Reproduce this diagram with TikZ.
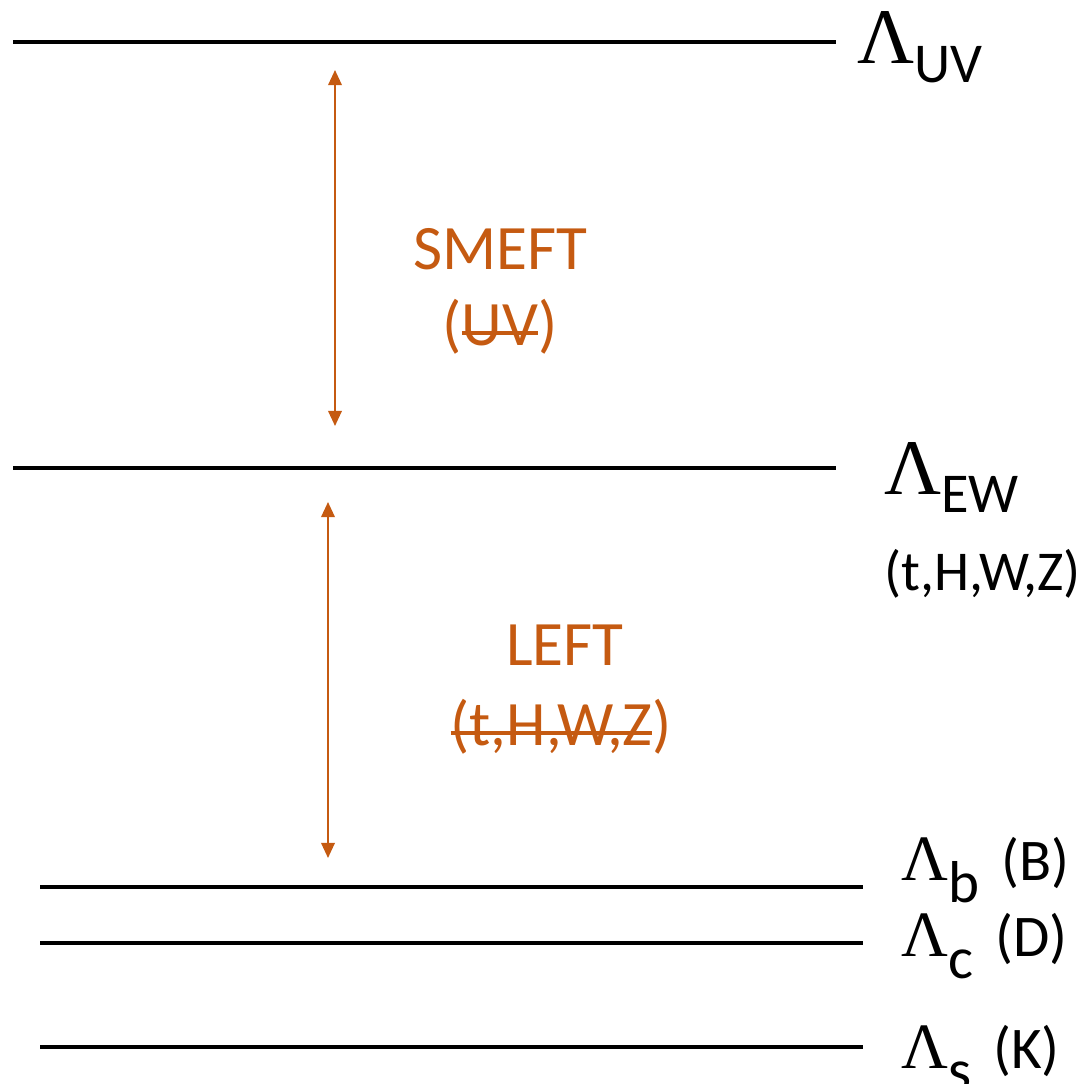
\documentclass[tikz,border=0pt]{standalone}
\usepackage{fontspec}
\setmainfont{Carlito}
\newfontfamily\lamfont{Liberation Serif}
\usetikzlibrary{arrows.meta}
\definecolor{rust}{HTML}{C55A11}
\newsavebox{\strkbox}
\newcommand{\strk}[1]{\sbox{\strkbox}{#1}\rlap{\rule[0.25cm]{\wd\strkbox}{0.1cm}}\usebox{\strkbox}}
\newcommand{\biglam}[1]{{\lamfont\fontsize{56}{60}\selectfont Λ}\raisebox{-0.45cm}{\fontsize{40}{48}\selectfont #1}}
\newcommand{\lowlam}[2]{{\lamfont\fontsize{46}{50}\selectfont Λ}\raisebox{-0.55cm}{\fontsize{42}{48}\selectfont #1}\hspace{0.55cm}{\fontsize{42}{48}\selectfont #2}}
\tikzset{
  level/.style={draw=black,line width=2.2pt},
  span/.style={{Triangle[length=3.8mm,width=3.4mm]}-{Triangle[length=3.8mm,width=3.4mm]},draw=rust,line width=1.4pt},
  eft/.style={font=\fontsize{45}{52}\selectfont,text=rust,anchor=base,inner sep=0pt},
  scalelbl/.style={anchor=base west,inner sep=0pt},
  partlbl/.style={font=\fontsize{40}{46}\selectfont,anchor=base west,inner sep=0pt}
}

\begin{document}
\begin{tikzpicture}[x=0.025cm,y=-0.025cm]
\useasboundingbox (0,0) rectangle (1086,1084);
% scale lines
\draw[level] (13,42)--(836,42);
\draw[level] (13,468)--(836,468);
\draw[level] (40,887)--(863,887);
\draw[level] (40,943)--(863,943);
\draw[level] (40,1047)--(863,1047);
% scale labels
\node[scalelbl] (uv) at (857,64) {\biglam{UV}};
\node[scalelbl] (ew) at (884,494) {\biglam{EW}};
\node[partlbl] (ewpart) at (884,590) {(t,H,W,Z)};
\node[scalelbl] (lb) at (901,880) {\lowlam{b}{(B)}};
\node[scalelbl] (lc) at (901,956) {\lowlam{c}{(D)}};
\node[scalelbl] (ls) at (901,1068) {\lowlam{s}{(K)}};
% effective theories
\coordinate (smtop) at (335,70); \coordinate (smbot) at (335,426);
\coordinate (lftop) at (328,502); \coordinate (lfbot) at (328,858);
\draw[span] (smtop)--(smbot);
\draw[span] (lftop)--(lfbot);
\node[eft] (smeft) at (500,269) {SMEFT};
\node[eft] (smeftx) at (500,345) {(\strk{UV})};
\node[eft] (left) at (565,665) {LEFT};
\node[eft] (leftx) at (561,745) {\strk{(t,H,W,Z})};
\end{tikzpicture}
\end{document}
